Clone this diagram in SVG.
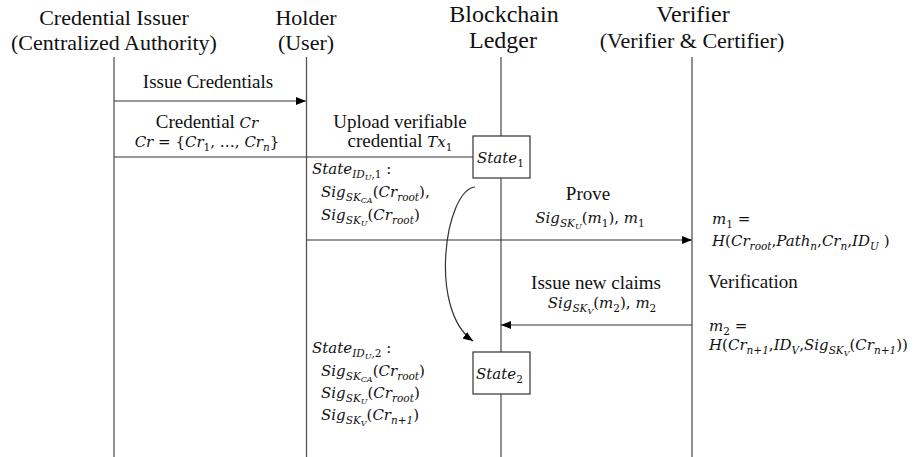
<svg xmlns="http://www.w3.org/2000/svg" width="917" height="457" viewBox="0 0 917 457">
<style>
.h{font-family:"Liberation Serif","Times New Roman",Times,"DejaVu Serif",serif;font-size:22px;fill:#111;text-anchor:middle}
.hb{font-family:"Liberation Serif","Times New Roman",Times,"DejaVu Serif",serif;font-size:24px;fill:#111;text-anchor:middle}
.t{font-family:"Liberation Serif","Times New Roman",Times,"DejaVu Serif",serif;font-size:19px;fill:#111}
.m{font-family:"DejaVu Serif","Liberation Serif",serif;font-style:italic;font-size:15px;fill:#111}
.s{font-size:10.5px}
.ss{font-size:8px}
.u{font-style:normal}
.life{stroke:#555;stroke-width:1.3;fill:none}
.msg{stroke:#333;stroke-width:1.2;fill:none}
.box{fill:#fff;stroke:#333;stroke-width:1.2}
</style>
<defs>
<marker id="ah" viewBox="0 0 10 8" refX="10" refY="4" markerWidth="10" markerHeight="8" markerUnits="userSpaceOnUse" orient="auto">
<path d="M0,0 L10,4 L0,8 z" fill="#000"/>
</marker>
</defs>
<rect width="917" height="457" fill="#fff"/>

<g id="issuer">
<text class="h" x="114" y="25">Credential Issuer</text>
<text class="h" x="114" y="50">(Centralized Authority)</text>
<line class="life" x1="114" y1="57" x2="114" y2="457"/>
</g>
<g id="holder">
<text class="h" x="306" y="25">Holder</text>
<text class="h" x="306" y="50">(User)</text>
<line class="life" x1="306.5" y1="57" x2="306.5" y2="457"/>
</g>
<g id="ledger">
<text class="hb" x="504" y="22">Blockchain</text>
<text class="hb" x="503" y="48">Ledger</text>
<line class="life" x1="501" y1="57" x2="501" y2="457"/>
</g>
<g id="verifier">
<text class="hb" x="693" y="22">Verifier</text>
<text class="h" x="692" y="48">(Verifier &amp; Certifier)</text>
<line class="life" x1="692" y1="57" x2="692" y2="457"/>
</g>

<g id="connectors">
<line class="msg" x1="114" y1="101" x2="306" y2="101" marker-end="url(#ah)"/>
<line class="msg" x1="114" y1="157" x2="473" y2="157"/>
<line class="msg" x1="306.5" y1="240" x2="692" y2="240" marker-end="url(#ah)"/>
<line class="msg" x1="692" y1="325" x2="501" y2="325" marker-end="url(#ah)"/>
<path class="msg" d="M475,187 C445,190 428,310 473,341" marker-end="url(#ah)"/>
</g>

<g id="state1">
<rect class="box" x="473" y="136" width="57" height="42"/>
<text class="m" x="477" y="163">State<tspan class="s u" dy="4">1</tspan></text>
</g>
<g id="state2">
<rect class="box" x="473" y="352" width="57" height="42"/>
<text class="m" x="476" y="379">State<tspan class="s u" dy="4">2</tspan></text>
</g>

<g id="labels">
<text class="t" x="208" y="88" text-anchor="middle" font-size="20">Issue Credentials</text>
<text class="t" x="207" y="128" text-anchor="middle" font-size="18">Credential <tspan class="m">Cr</tspan></text>
<text class="m" x="207" y="147" text-anchor="middle">Cr <tspan class="u">= {</tspan>Cr<tspan class="s u" dy="4">1</tspan><tspan class="u" dy="-4">, …, </tspan>Cr<tspan class="s" dy="4">n</tspan><tspan class="u" dy="-4">}</tspan></text>

<text class="t" x="400" y="128" text-anchor="middle">Upload verifiable</text>
<text class="t" x="400" y="147" text-anchor="middle">credential  <tspan class="m">Tx<tspan class="s u" dy="4">1</tspan></tspan></text>

<text class="m" x="312" y="174">State<tspan class="s" dy="4">ID</tspan><tspan class="ss" dy="2">U</tspan><tspan class="s u" dy="-2">,1</tspan><tspan class="u" dy="-4"> :</tspan></text>
<text class="m" x="321" y="197">Sig<tspan class="s" dy="4">SK</tspan><tspan class="ss" dy="2">CA</tspan><tspan class="u" dy="-6">(</tspan>Cr<tspan class="s" dy="4">root</tspan><tspan class="u" dy="-4">),</tspan></text>
<text class="m" x="321" y="220">Sig<tspan class="s" dy="4">SK</tspan><tspan class="ss" dy="2">U</tspan><tspan class="u" dy="-6">(</tspan>Cr<tspan class="s" dy="4">root</tspan><tspan class="u" dy="-4">)</tspan></text>

<text class="t" x="588" y="200" text-anchor="middle" font-size="20">Prove</text>
<text class="m" x="590" y="223" text-anchor="middle">Sig<tspan class="s" dy="4">SK</tspan><tspan class="ss" dy="2">U</tspan><tspan class="u" dy="-6">(</tspan>m<tspan class="s u" dy="4">1</tspan><tspan class="u" dy="-4">), </tspan>m<tspan class="s u" dy="4">1</tspan></text>

<text class="m" x="712" y="224">m<tspan class="s u" dy="4">1</tspan><tspan class="u" dy="-4"> =</tspan></text>
<text class="m" x="712" y="246">H<tspan class="u">(</tspan>Cr<tspan class="s" dy="4">root</tspan><tspan class="u" dy="-4">,</tspan>Path<tspan class="s" dy="4">n</tspan><tspan class="u" dy="-4">,</tspan>Cr<tspan class="s" dy="4">n</tspan><tspan class="u" dy="-4">,</tspan>ID<tspan class="s" dy="4">U</tspan><tspan class="u" dy="-4"> )</tspan></text>

<text class="t" x="596" y="289" text-anchor="middle" font-size="20">Issue new claims</text>
<text class="m" x="602" y="308" text-anchor="middle">Sig<tspan class="s" dy="4">SK</tspan><tspan class="ss" dy="2">V</tspan><tspan class="u" dy="-6">(</tspan>m<tspan class="s u" dy="4">2</tspan><tspan class="u" dy="-4">), </tspan>m<tspan class="s u" dy="4">2</tspan></text>

<text class="t" x="708" y="288" font-size="20">Verification</text>
<text class="m" x="709" y="331">m<tspan class="s u" dy="4">2</tspan><tspan class="u" dy="-4"> =</tspan></text>
<text class="m" x="709" y="350">H<tspan class="u">(</tspan>Cr<tspan class="s" dy="4">n+1</tspan><tspan class="u" dy="-4">,</tspan>ID<tspan class="s" dy="4">V</tspan><tspan class="u" dy="-4">,</tspan>Sig<tspan class="s" dy="4">SK</tspan><tspan class="ss" dy="2">V</tspan><tspan class="u" dy="-6">(</tspan>Cr<tspan class="s" dy="4">n+1</tspan><tspan class="u" dy="-4">))</tspan></text>

<text class="m" x="312" y="353">State<tspan class="s" dy="4">ID</tspan><tspan class="ss" dy="2">U</tspan><tspan class="s u" dy="-2">,2</tspan><tspan class="u" dy="-4"> :</tspan></text>
<text class="m" x="321" y="376">Sig<tspan class="s" dy="4">SK</tspan><tspan class="ss" dy="2">CA</tspan><tspan class="u" dy="-6">(</tspan>Cr<tspan class="s" dy="4">root</tspan><tspan class="u" dy="-4">)</tspan></text>
<text class="m" x="321" y="398">Sig<tspan class="s" dy="4">SK</tspan><tspan class="ss" dy="2">U</tspan><tspan class="u" dy="-6">(</tspan>Cr<tspan class="s" dy="4">root</tspan><tspan class="u" dy="-4">)</tspan></text>
<text class="m" x="321" y="420">Sig<tspan class="s" dy="4">SK</tspan><tspan class="ss" dy="2">V</tspan><tspan class="u" dy="-6">(</tspan>Cr<tspan class="s" dy="4">n+1</tspan><tspan class="u" dy="-4">)</tspan></text>
</g>
</svg>
